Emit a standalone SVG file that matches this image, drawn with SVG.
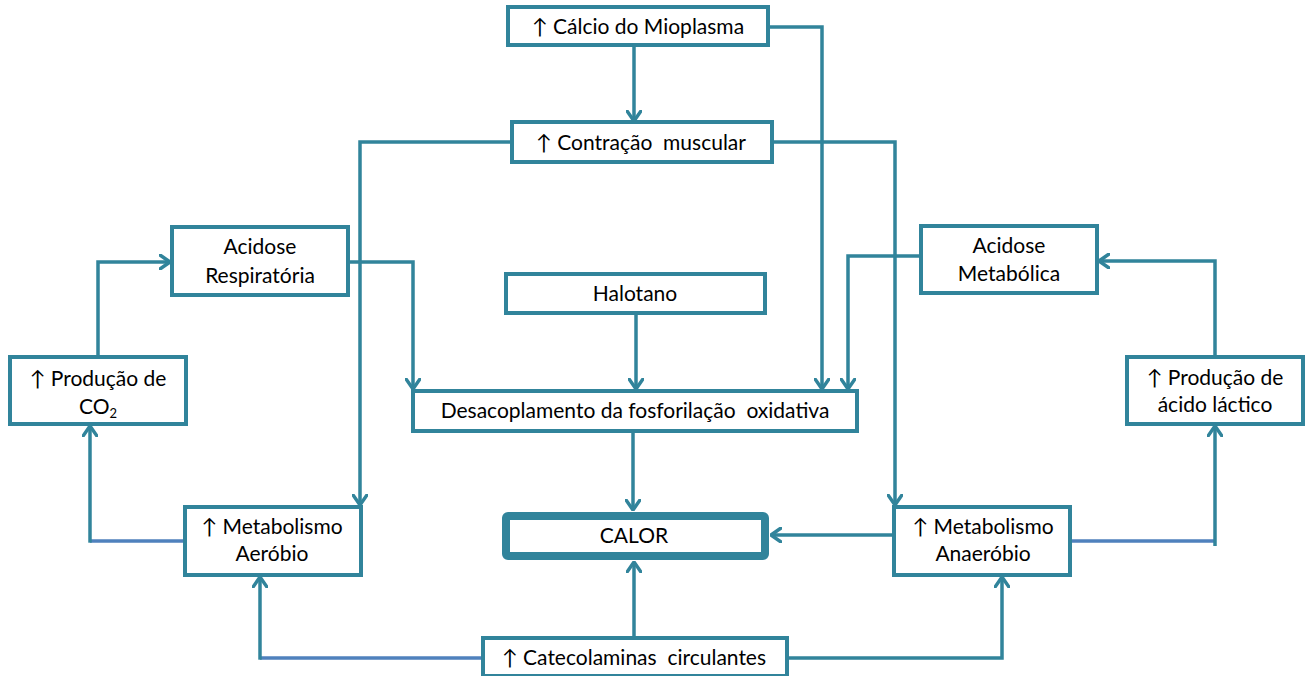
<svg xmlns="http://www.w3.org/2000/svg" width="1306" height="676" viewBox="0 0 1306 676">
<style>
.box{fill:#fff;stroke:#31849B;stroke-width:4}
.hot{fill:#fff;stroke:#31849B;stroke-width:8}
.t{font-family:Lato,"Open Sans",sans-serif;font-size:21px;fill:#000;text-anchor:middle}
.c{fill:none;stroke:#31849B;stroke-width:3.5}
.b{fill:none;stroke:#4F81BD;stroke-width:3.5}
</style>
<defs>
<marker id="ah" viewBox="0 0 12 16" refX="11" refY="8" markerWidth="12" markerHeight="16" markerUnits="userSpaceOnUse" orient="auto">
<path d="M1,1 L11,8 L1,15" fill="none" stroke="#31849B" stroke-width="3.5" stroke-linecap="round" stroke-linejoin="round"/>
</marker>
</defs>
<rect width="1306" height="676" fill="#fff"/>
<g id="connectors">
<path class="c" d="M634,46 V121" marker-end="url(#ah)"/>
<path class="c" d="M768,27 H822 V389" marker-end="url(#ah)"/>
<path class="c" d="M512,142 H360 V505" marker-end="url(#ah)"/>
<path class="c" d="M772,142 H895 V505" marker-end="url(#ah)"/>
<path class="c" d="M348,262 H413 V389" marker-end="url(#ah)"/>
<path class="c" d="M98,357 V262 H170" marker-end="url(#ah)"/>
<path class="c" d="M921,256 H848 V389" marker-end="url(#ah)"/>
<path class="c" d="M1215,357 V261 H1099" marker-end="url(#ah)"/>
<path class="c" d="M636,313 V389" marker-end="url(#ah)"/>
<path class="c" d="M633,431 V510" marker-end="url(#ah)"/>
<path class="c" d="M894,535 H771" marker-end="url(#ah)"/>
<path class="c" d="M634,638 V562" marker-end="url(#ah)"/>
<path class="b" d="M482,658 H260"/>
<path class="c" d="M260,659.7 V577" marker-end="url(#ah)"/>
<path class="c" d="M787,658 H1002 V577" marker-end="url(#ah)"/>
<path class="b" d="M185,541 H90"/>
<path class="c" d="M90,542.7 V426" marker-end="url(#ah)"/>
<path class="b" d="M1070,541 H1215"/>
<path class="c" d="M1215,546 V426" marker-end="url(#ah)"/>
</g>
<g id="calcio"><rect class="box" x="508" y="7" width="260" height="38"/><text class="t" x="638" y="34">↑ Cálcio do Mioplasma</text></g>
<g id="contracao"><rect class="box" x="512" y="122" width="260" height="40"/><text class="t" x="641" y="150" xml:space="preserve">↑ Contração  muscular</text></g>
<g id="acidose-resp"><rect class="box" x="172" y="227" width="176" height="68"/><text class="t" x="260" y="254">Acidose</text><text class="t" x="260" y="283">Respiratória</text></g>
<g id="producao-co2"><rect class="box" x="10" y="357" width="176" height="67"/><text class="t" x="98" y="386">↑ Produção de</text><text class="t" x="98" y="414">CO<tspan font-size="13" dy="4">2</tspan></text></g>
<g id="acidose-met"><rect class="box" x="921" y="226" width="176" height="67"/><text class="t" x="1009" y="253">Acidose</text><text class="t" x="1009" y="281">Metabólica</text></g>
<g id="producao-lactico"><rect class="box" x="1127" y="357" width="176" height="67"/><text class="t" x="1215" y="385">↑ Produção de</text><text class="t" x="1215" y="412">ácido láctico</text></g>
<g id="halotano"><rect class="box" x="506" y="274" width="259" height="39"/><text class="t" x="635" y="301">Halotano</text></g>
<g id="desacoplamento"><rect class="box" x="413" y="391" width="444" height="40"/><text class="t" x="635" y="418" xml:space="preserve">Desacoplamento da fosforilação  oxidativa</text></g>
<g id="calor"><rect class="hot" x="506" y="516" width="259" height="40" rx="2"/><text class="t" x="634" y="543">CALOR</text></g>
<g id="aerobio"><rect class="box" x="185" y="507" width="176" height="68"/><text class="t" x="272" y="534">↑ Metabolismo</text><text class="t" x="272" y="561">Aeróbio</text></g>
<g id="anaerobio"><rect class="box" x="894" y="507" width="176" height="68"/><text class="t" x="983" y="534">↑ Metabolismo</text><text class="t" x="983" y="561">Anaeróbio</text></g>
<g id="catecolaminas"><rect class="box" x="483" y="638" width="304" height="38"/><text class="t" x="634" y="665" xml:space="preserve">↑ Catecolaminas  circulantes</text></g>
</svg>
